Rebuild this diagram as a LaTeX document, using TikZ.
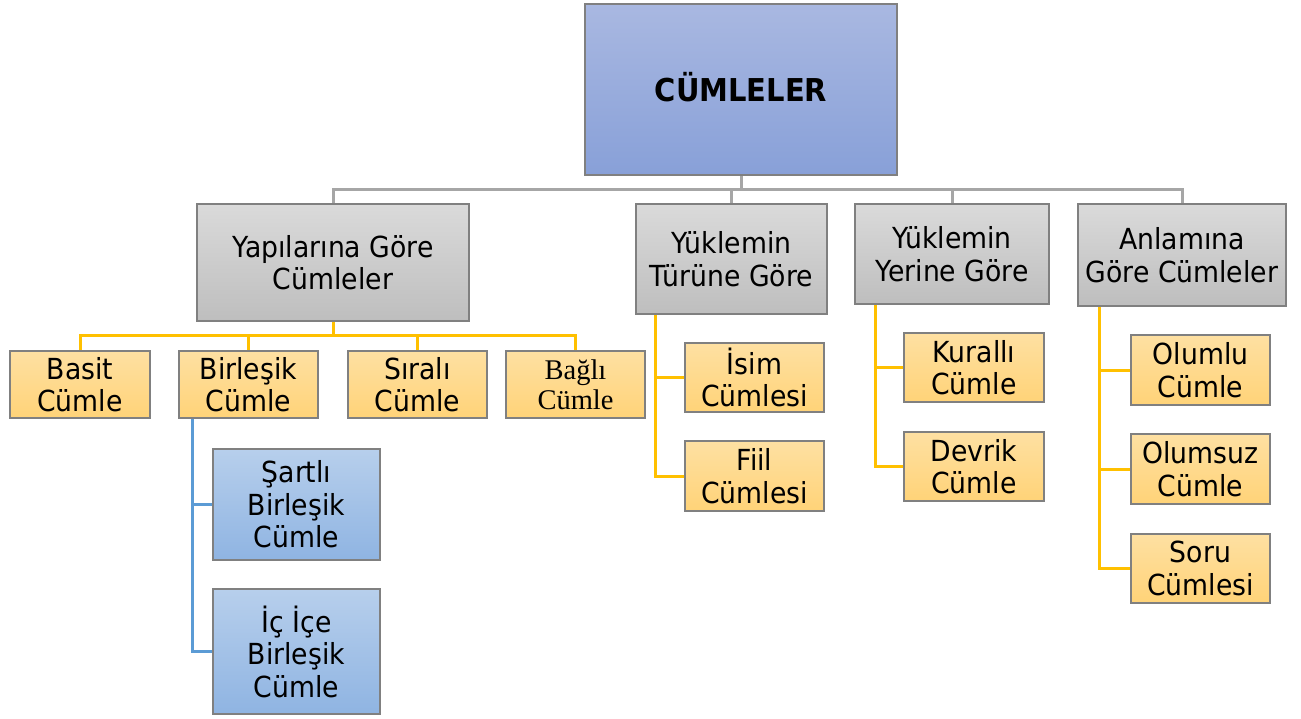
\documentclass[tikz,border=0pt]{standalone}
\usepackage{fontspec}
\setmainfont[FakeStretch=0.92]{DejaVu Sans}
\newfontfamily\serifx{Liberation Serif}
\definecolor{bordc}{RGB}{128,128,128}
\definecolor{glinec}{RGB}{166,166,166}
\definecolor{ylinec}{RGB}{255,192,0}
\definecolor{blinec}{RGB}{91,155,213}
\definecolor{toptop}{RGB}{169,184,225}
\definecolor{topbot}{RGB}{136,160,216}
\definecolor{graytop}{RGB}{218,218,218}
\definecolor{graybot}{RGB}{190,190,190}
\definecolor{yeltop}{RGB}{254,224,162}
\definecolor{yelbot}{RGB}{255,211,120}
\definecolor{bluetop}{RGB}{183,207,236}
\definecolor{bluebot}{RGB}{143,180,226}
\begin{document}
\begin{tikzpicture}[x=1pt,y=-1pt,
  basebox/.style={draw=bordc, line width=1.5pt, inner sep=0pt, align=center,
    font=\fontsize{29}{32.5}\selectfont},
  topbox/.style={basebox, top color=toptop, bottom color=topbot,
    font=\fontsize{31.5}{36}\selectfont\bfseries},
  graybox/.style={basebox, top color=graytop, bottom color=graybot},
  yelbox/.style={basebox, top color=yeltop, bottom color=yelbot},
  bluebox/.style={basebox, top color=bluetop, bottom color=bluebot},
  gline/.style={draw=glinec, line width=3pt},
  yline/.style={draw=ylinec, line width=3pt},
  bline/.style={draw=blinec, line width=3pt}]
\useasboundingbox (0,0) rectangle (1301,718);

% top
\node[topbox, minimum width=312pt, minimum height=171pt, text depth=6pt] (top) at (741,89.5) {CÜMLELER};

% second level
\node[graybox, minimum width=272pt, minimum height=117pt] (yap) at (333,262.5) {Yapılarına Göre\\Cümleler};
\node[graybox, minimum width=191pt, minimum height=110pt] (tur) at (731.5,259) {Yüklemin\\Türüne Göre};
\node[graybox, minimum width=194pt, minimum height=100pt] (yer) at (952,254) {Yüklemin\\Yerine Göre};
\node[graybox, minimum width=208pt, minimum height=102pt] (anl) at (1182,255) {Anlamına\\Göre Cümleler};

% third level under Yapilarina
\node[yelbox, minimum width=140pt, minimum height=67pt] (basit) at (80,384.5) {Basit\\Cümle};
\node[yelbox, minimum width=139pt, minimum height=67pt] (bir) at (248.5,384.5) {Birleşik\\Cümle};
\node[yelbox, minimum width=139pt, minimum height=67pt] (sira) at (417.5,384.5) {Sıralı\\Cümle};
\node[yelbox, minimum width=139pt, minimum height=67pt, font=\serifx\fontsize{28.5}{29.5}\selectfont] (bagli) at (575.5,384.5) {Bağlı\\Cümle};

% blue under Birlesik
\node[bluebox, minimum width=167pt, minimum height=111pt] (sart) at (296.5,504.5) {Şartlı\\Birleşik\\Cümle};
\node[bluebox, minimum width=167pt, minimum height=125pt] (icice) at (296.5,651.5) {İç İçe\\Birleşik\\Cümle};

% under Turune
\node[yelbox, minimum width=139pt, minimum height=69pt] (isim) at (754.5,377.5) {İsim\\Cümlesi};
\node[yelbox, minimum width=139pt, minimum height=70pt] (fiil) at (754.5,476) {Fiil\\Cümlesi};

% under Yerine
\node[yelbox, minimum width=140pt, minimum height=69pt] (kur) at (974,367.5) {Kurallı\\Cümle};
\node[yelbox, minimum width=140pt, minimum height=69pt] (dev) at (974,466.5) {Devrik\\Cümle};

% under Anlamina
\node[yelbox, minimum width=139pt, minimum height=70pt] (olu) at (1200.5,370) {Olumlu\\Cümle};
\node[yelbox, minimum width=139pt, minimum height=70pt] (olsz) at (1200.5,469) {Olumsuz\\Cümle};
\node[yelbox, minimum width=139pt, minimum height=69pt] (soru) at (1200.5,568.5) {Soru\\Cümlesi};

% gray connectors
\foreach \n in {yap,tur,yer,anl}
  \draw[gline] (top.south) -- ++(0,14) -| (\n.north);

% yellow connectors from Yapilarina
\foreach \n in {basit,bir,sira,bagli}
  \draw[yline] (yap.south) -- ++(0,14) -| (\n.north);

% blue connectors
\foreach \n in {sart,icice}
  \draw[bline] ([xshift=14pt]bir.south west) |- (\n.west);

% Turune
\foreach \n in {isim,fiil}
  \draw[yline] ([xshift=20pt]tur.south west) |- (\n.west);

% Yerine
\foreach \n in {kur,dev}
  \draw[yline] ([xshift=21pt]yer.south west) |- (\n.west);

% Anlamina
\foreach \n in {olu,olsz,soru}
  \draw[yline] ([xshift=22pt]anl.south west) |- (\n.west);
\end{tikzpicture}
\end{document}
